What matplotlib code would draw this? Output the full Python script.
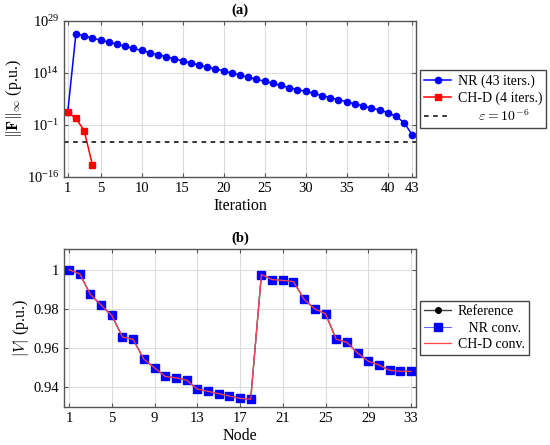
import matplotlib
matplotlib.use('Agg')
import matplotlib.pyplot as plt
from matplotlib.ticker import FixedLocator, NullLocator

plt.rcParams['font.family'] = ['Liberation Serif', 'DejaVu Serif']
plt.rcParams['mathtext.fontset'] = 'cm'

# (a) residual norm per iteration (log10 values)
nr_iter = list(range(1, 44))
nr_log_res = [2.66, 25.3, 24.7, 24.1, 23.5, 22.9, 22.3, 21.7, 21.1, 20.5,
              19.9, 19.3, 18.7, 18.1, 17.5, 16.9, 16.3, 15.7, 15.2, 14.6,
              14.0, 13.4, 12.8, 12.2, 11.6, 11.0, 10.4, 9.8, 9.2, 8.7,
              8.1, 7.5, 6.9, 6.3, 5.7, 5.1, 4.5, 3.9, 3.3, 2.6,
              1.5, -0.3, -3.9]
chd_iter = [1, 2, 3, 4]
chd_log_res = [2.66, 0.93, -2.6, -12.4]
eps = 1e-6

# (b) voltage magnitude per node
nodes = list(range(1, 34))
v_ref = [1.0, 0.998, 0.9874, 0.982, 0.9767, 0.9657, 0.9645, 0.9544, 0.9500, 0.9456,
         0.9449, 0.9437, 0.9391, 0.9380, 0.9368, 0.9356, 0.9344, 0.9340, 0.9976, 0.9950,
         0.9946, 0.9940, 0.9849, 0.9800, 0.9776, 0.9646, 0.9630, 0.9575, 0.9534, 0.9514,
         0.9487, 0.9482, 0.9482]
v_nr = list(v_ref)
v_chd = list(v_ref)

fig = plt.figure(figsize=(5.5, 4.45), dpi=100)
ax1 = fig.add_axes([0.1164, 0.6022, 0.64, 0.3506])
ax2 = fig.add_axes([0.1164, 0.0854, 0.64, 0.355])

edge = '#555555'
for ax in (ax1, ax2):
    ax.grid(True, color='#dddddd', linewidth=0.8)
    ax.set_axisbelow(True)
    ax.tick_params(direction='in', top=True, right=True, color=edge,
                   labelsize=10.5, length=3)
    for s in ax.spines.values():
        s.set_color(edge)
        s.set_linewidth(1.0)

leg_kw = dict(loc='center left', bbox_to_anchor=(1.012, 0.5), fontsize=10,
              frameon=True, fancybox=False, edgecolor='#444444', framealpha=1,
              handlelength=1.9, handletextpad=0.5, borderpad=0.3,
              labelspacing=0.25, borderaxespad=0)

# top panel
ax1.semilogy(nr_iter, [10 ** v for v in nr_log_res], color='blue', marker='o',
             markersize=4.5, linewidth=1.1, label='NR (43 iters.)')
ax1.semilogy(chd_iter, [10 ** v for v in chd_log_res], color='red', marker='s',
             markersize=4.5, linewidth=1.1, label='CH-D (4 iters.)')
ax1.axhline(eps, color='black', linestyle=(0, (3, 3)), linewidth=1.1,
            label=r'      $\varepsilon = 10^{-6}$')
ax1.set_xlim(0.55, 43.45)
ax1.set_ylim(1e-16, 1e29)
ax1.xaxis.set_major_locator(FixedLocator([1, 5, 10, 15, 20, 25, 30, 35, 40, 43]))
ax1.yaxis.set_major_locator(FixedLocator([1e-16, 1e-1, 1e14, 1e29]))
ax1.yaxis.set_minor_locator(NullLocator())
ax1.set_xlabel('Iteration', fontsize=11.5, labelpad=2)
ax1.set_ylabel(r'$\|\mathbf{F}\|_\infty$ (p.u.)', fontsize=11.5, labelpad=2)
ax1.set_title('(a)', fontsize=10.5, fontweight='bold', pad=5)
ax1.legend(**leg_kw)

# bottom panel
ax2.plot(nodes, v_ref, color='#444444', marker='o', markersize=4,
         linewidth=1.0, markerfacecolor='black', markeredgecolor='black',
         label='Reference')
ax2.plot(nodes, v_nr, color='#6666ff', marker='s', markersize=5.5,
         linewidth=0.8, markerfacecolor='blue', markeredgecolor='blue',
         label='   NR conv.')
ax2.plot(nodes, v_chd, color='#ff4444', linewidth=0.9, label='CH-D conv.')
ax2.set_xlim(0.53, 33.47)
ax2.set_ylim(0.930, 1.0106)
ax2.xaxis.set_major_locator(FixedLocator(list(range(1, 34, 4))))
ax2.yaxis.set_major_locator(FixedLocator([0.94, 0.96, 0.98, 1.0]))
ax2.set_yticklabels(['0.94', '0.96', '0.98', '1'])
ax2.set_xlabel('Node', fontsize=11.5, labelpad=2)
ax2.set_ylabel(r'$|V|$ (p.u.)', fontsize=11.5, labelpad=2)
ax2.set_title('(b)', fontsize=10.5, fontweight='bold', pad=5)
ax2.legend(**leg_kw)

fig.savefig('out.png', dpi=100)
